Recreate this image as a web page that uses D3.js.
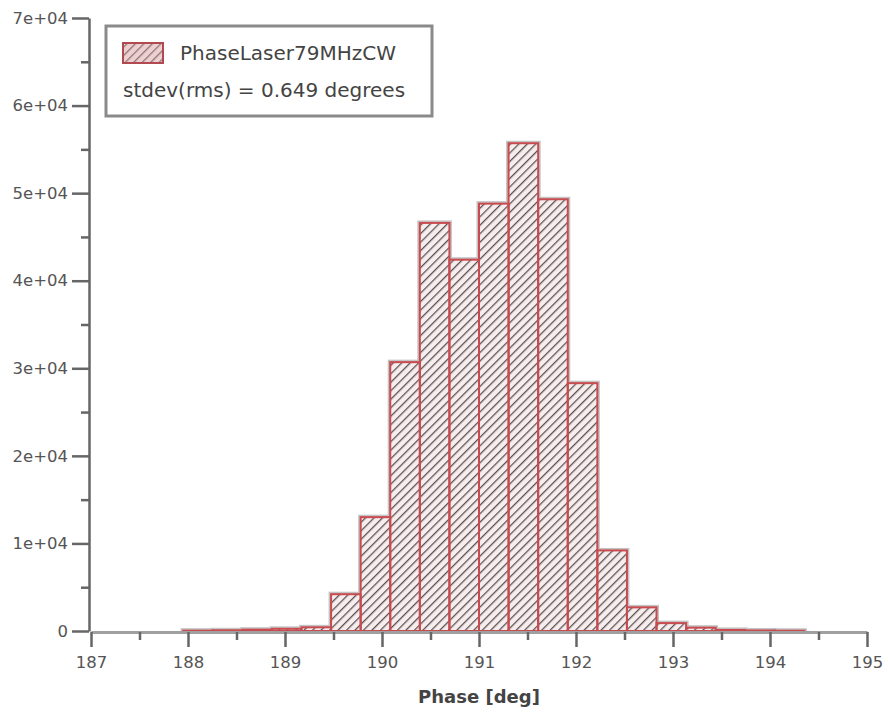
<!DOCTYPE html>
<html>
<head>
<meta charset="utf-8">
<script src="https://cdn.jsdelivr.net/npm/d3@7"></script>
<style>
  html, body { margin: 0; padding: 0; background: #fff; }
  svg { display: block; font-family: "DejaVu Sans", sans-serif; }
</style>
</head>
<body>
<svg id="chart" width="888" height="713"></svg>
<script>
// ---- data ----
const binEdges = [187.95, 188.255, 188.56, 188.865, 189.17, 189.475, 189.78, 190.085, 190.39, 190.695, 191.0,
                  191.305, 191.61, 191.915, 192.22, 192.525, 192.83, 193.135, 193.44, 193.745, 194.05, 194.355];
const counts   = [40, 80, 150, 250, 420, 4200, 13000, 30700, 46600, 42400, 48800,
                  55700, 49300, 28300, 9200, 2700, 900, 380, 120, 60, 30];
const xTickValues = [187, 188, 189, 190, 191, 192, 193, 194, 195];
const xMinorValues = [187.5, 188.5, 189.5, 190.5, 191.5, 192.5, 193.5, 194.5];
const yTickValues = [0, 10000, 20000, 30000, 40000, 50000, 60000, 70000];
const yTickLabels = ["0", "1e+04", "2e+04", "3e+04", "4e+04", "5e+04", "6e+04", "7e+04"];
const yMinorValues = [5000, 15000, 25000, 35000, 45000, 55000, 65000];
const seriesName = "PhaseLaser79MHzCW";
const statText = "stdev(rms) = 0.649 degrees";
const xTitle = "Phase [deg]";

const bins = counts.map((c, i) => ({x0: binEdges[i], x1: binEdges[i + 1], count: c}));

const svg = d3.select("#chart");
const x = d3.scaleLinear().domain([187, 195]).range([91, 867]);
const y = d3.scaleLinear().domain([0, 70000]).range([631, 18]);

// hatch pattern
const defs = svg.append("defs");
const pat = defs.append("pattern")
  .attr("id", "hatch").attr("patternUnits", "userSpaceOnUse")
  .attr("width", 6).attr("height", 6)
  .attr("patternTransform", "rotate(45)");
pat.append("rect").attr("width", 6).attr("height", 6).attr("fill", "#f6eeee");
pat.append("line").attr("x1", 0).attr("y1", 0).attr("x2", 0).attr("y2", 6)
  .attr("stroke", "#5e5050").attr("stroke-width", 2.6);

const barsG = svg.append("g");
// grey halo
barsG.selectAll("rect.halo").data(bins).join("rect").attr("class", "halo")
  .attr("x", d => x(d.x0)).attr("width", d => x(d.x1) - x(d.x0))
  .attr("y", d => y(d.count)).attr("height", d => y(0) - y(d.count))
  .attr("fill", "#ccc").attr("stroke", "#c4c4c4").attr("stroke-width", 5);
// hatched fill
barsG.selectAll("rect.fill").data(bins).join("rect").attr("class", "fill")
  .attr("x", d => x(d.x0)).attr("width", d => x(d.x1) - x(d.x0))
  .attr("y", d => y(d.count)).attr("height", d => y(0) - y(d.count))
  .attr("fill", "url(#hatch)");
// red outline
barsG.selectAll("rect.edge").data(bins).join("rect").attr("class", "edge")
  .attr("x", d => x(d.x0)).attr("width", d => x(d.x1) - x(d.x0))
  .attr("y", d => y(d.count)).attr("height", d => y(0) - y(d.count))
  .attr("fill", "none").attr("stroke", "#c94a4f").attr("stroke-width", 2);

// x axis
const xAxisG = svg.append("g").attr("transform", "translate(0,632)")
  .call(d3.axisBottom(x).tickValues(xTickValues).tickFormat(d3.format("d"))
        .tickSize(15).tickPadding(9).tickSizeOuter(0));
svg.append("g").attr("transform", "translate(0,632)")
  .call(d3.axisBottom(x).tickValues(xMinorValues).tickFormat("").tickSize(8).tickSizeOuter(0))
  .call(g => g.select(".domain").remove());
xAxisG.select(".domain").attr("stroke", "#a0a0a0").attr("stroke-width", 3);

// y axis
const yAxisG = svg.append("g").attr("transform", "translate(89,0)")
  .call(d3.axisLeft(y).tickValues(yTickValues).tickFormat((d, i) => yTickLabels[i])
        .tickSize(17).tickPadding(4).tickSizeOuter(0));
svg.append("g").attr("transform", "translate(89,0)")
  .call(d3.axisLeft(y).tickValues(yMinorValues).tickFormat("").tickSize(8).tickSizeOuter(0))
  .call(g => g.select(".domain").remove());
yAxisG.select(".domain").attr("stroke", "#666").attr("stroke-width", 2.5);

svg.selectAll(".tick line").attr("stroke", "#666").attr("stroke-width", 2.5);
svg.selectAll(".tick text").attr("font-size", 16.5).attr("fill", "#555")
  .attr("font-family", "DejaVu Sans, sans-serif");

// axis title
svg.append("text").attr("x", x(191)).attr("y", 703).attr("text-anchor", "middle")
  .attr("font-size", 18).attr("font-weight", "bold").attr("fill", "#444").text(xTitle);

// legend
const lg = svg.append("g");
lg.append("rect").attr("x", 106).attr("y", 26).attr("width", 326).attr("height", 90)
  .attr("fill", "#fff").attr("stroke", "#8a8a8a").attr("stroke-width", 3);
lg.append("rect").attr("x", 123).attr("y", 43).attr("width", 40).attr("height", 20)
  .attr("fill", "#e0a6a8");
lg.append("rect").attr("x", 123).attr("y", 43).attr("width", 40).attr("height", 20)
  .attr("fill", "url(#hatch)").attr("fill-opacity", 0.6)
  .attr("stroke", "#b04a50").attr("stroke-width", 2);
lg.append("text").attr("x", 180).attr("y", 60).attr("font-size", 20).attr("fill", "#444").text(seriesName);
lg.append("text").attr("x", 123).attr("y", 97).attr("font-size", 20).attr("fill", "#444").text(statText);
</script>
</body>
</html>
